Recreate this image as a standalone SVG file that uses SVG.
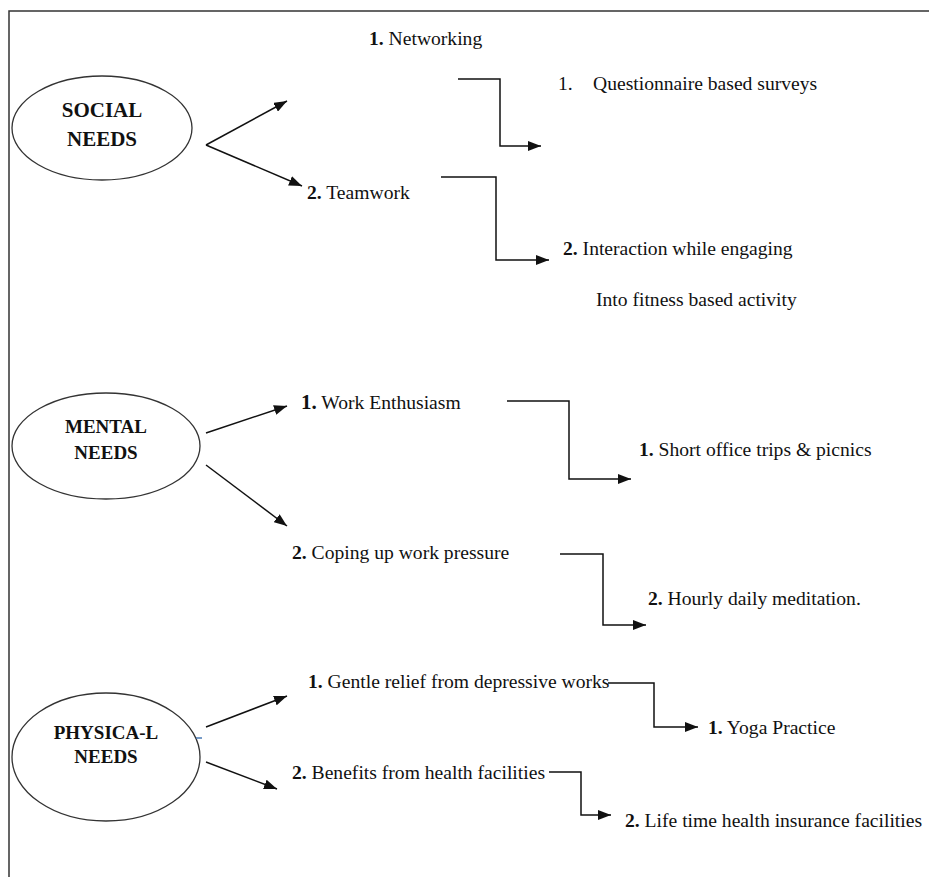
<svg xmlns="http://www.w3.org/2000/svg" width="929" height="877" viewBox="0 0 929 877">
<defs>
<marker id="ah" viewBox="0 0 13 10" refX="13" refY="5" markerWidth="13" markerHeight="10" markerUnits="userSpaceOnUse" orient="auto">
<path d="M0,0 L13,5 L0,10 Z" fill="#111"/>
</marker>
<style>
.t{font-family:"Liberation Serif","Times New Roman",serif;font-size:19.6px;fill:#111}
.b{font-weight:bold}
.h{font-family:"Liberation Serif","Times New Roman",serif;font-weight:bold;fill:#111;text-anchor:middle}
.e{fill:#fff;stroke:#333;stroke-width:1.3}
.c{fill:none;stroke:#111;stroke-width:1.5;marker-end:url(#ah)}
.f{fill:none;stroke:#333;stroke-width:1.5}
</style>
</defs>
<rect width="929" height="877" fill="#fff"/>
<path class="f" d="M9,877 L9,11 L929,11"/>

<g id="social">
<ellipse class="e" cx="102" cy="128" rx="90" ry="52"/>
<text class="h" x="102" y="117" font-size="21">SOCIAL</text>
<text class="h" x="102" y="146" font-size="21">NEEDS</text>
</g>
<g id="mental">
<ellipse class="e" cx="106" cy="446" rx="94" ry="53"/>
<text class="h" x="106" y="433" font-size="19">MENTAL</text>
<text class="h" x="106" y="459" font-size="19">NEEDS</text>
</g>
<g id="physical">
<ellipse class="e" cx="106" cy="757" rx="94" ry="64"/>
<text class="h" x="106" y="739" font-size="19">PHYSICA-L</text>
<text class="h" x="106" y="763" font-size="19">NEEDS</text>
<line x1="196" y1="738" x2="202" y2="738" stroke="#4a7ab5" stroke-width="1.5"/>
</g>

<g id="networking"><text class="t" x="369" y="45"><tspan class="b">1.</tspan> Networking</text></g>
<g id="teamwork"><text class="t" x="307" y="199"><tspan class="b">2.</tspan> Teamwork</text></g>
<g id="questionnaire"><text class="t" x="558" y="90">1.<tspan x="593">Questionnaire based surveys</tspan></text></g>
<g id="interaction">
<text class="t" x="563" y="255"><tspan class="b">2.</tspan> Interaction while  engaging</text>
<text class="t" x="596" y="306">Into fitness based activity</text>
</g>
<g id="enthusiasm"><text class="t" x="301" y="409"><tspan class="b" font-size="21">1.</tspan> Work Enthusiasm</text></g>
<g id="coping"><text class="t" x="292" y="559"><tspan class="b">2.</tspan> Coping up work pressure</text></g>
<g id="trips"><text class="t" x="639" y="456"><tspan class="b">1.</tspan> Short office trips &amp; picnics</text></g>
<g id="meditation"><text class="t" x="648" y="605"><tspan class="b">2.</tspan> Hourly daily meditation.</text></g>
<g id="gentle"><text class="t" x="308" y="688"><tspan class="b">1.</tspan> Gentle relief from depressive works</text></g>
<g id="benefits"><text class="t" x="292" y="779"><tspan class="b">2.</tspan> Benefits from health facilities</text></g>
<g id="yoga"><text class="t" x="708" y="734"><tspan class="b">1.</tspan> Yoga Practice</text></g>
<g id="insurance"><text class="t" x="625" y="827"><tspan class="b">2.</tspan> Life time health insurance facilities</text></g>

<g id="connectors">
<path class="c" d="M206,145 L287,101"/>
<path class="c" d="M206,145 L302,186"/>
<path class="c" d="M458,79 L500,79 L500,146 L541,146"/>
<path class="c" d="M441,177 L496,177 L496,260 L549,260"/>
<path class="c" d="M206,433 L287,406"/>
<path class="c" d="M206,465 L287,526"/>
<path class="c" d="M507,401 L569,401 L569,479 L631,479"/>
<path class="c" d="M560,554 L603,554 L603,625 L646,625"/>
<path class="c" d="M206,727 L287,696"/>
<path class="c" d="M206,762 L277,789"/>
<path class="c" d="M608,683 L654,683 L654,727 L698,727"/>
<path class="c" d="M549,772 L581,772 L581,815 L611,815"/>
</g>
</svg>
